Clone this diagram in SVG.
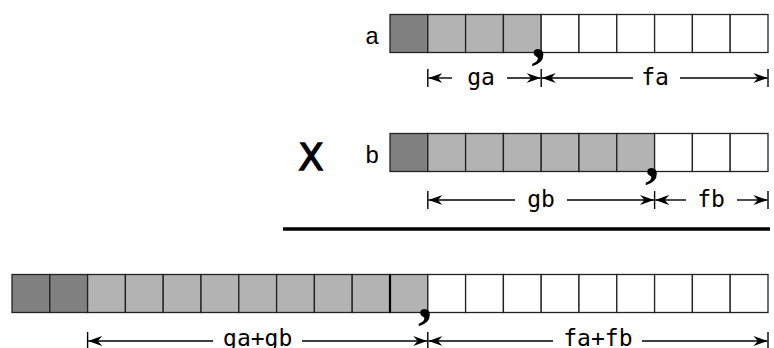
<svg xmlns="http://www.w3.org/2000/svg" width="774" height="348" viewBox="0 0 774 348">
<style>
.c{stroke:#222;stroke-width:1.3}
.d{fill:#808080}
.g{fill:#b3b3b3}
.w{fill:#fff}
.lbl{font-family:"Liberation Mono",monospace;font-size:24px;fill:#000}
.dim{font-family:"DejaVu Sans Mono",monospace;font-size:23px;fill:#000;text-anchor:middle}
.cm{font-family:"Liberation Serif",serif;font-weight:bold;font-size:56px;fill:#000}
.ln{stroke:#000;stroke-width:1.4;fill:none}
.ar{stroke:#000;stroke-width:1.4;fill:none;marker-end:url(#ah)}
</style>
<defs>
<marker id="ah" viewBox="0 0 14 11" refX="14" refY="5.5" markerWidth="14" markerHeight="11" markerUnits="userSpaceOnUse" orient="auto">
<path d="M0,0.5 L14,5.5 L0,10.5 L4.5,5.5 z" fill="#000"/>
</marker>
</defs>
<rect width="774" height="348" fill="#fff"/>

<g id="row-a">
<text class="lbl" x="365" y="44">a</text>
<rect class="c d" x="390" y="14.5" width="37.8" height="38"/>
<rect class="c g" x="427.8" y="14.5" width="37.8" height="38"/>
<rect class="c g" x="465.6" y="14.5" width="37.8" height="38"/>
<rect class="c g" x="503.4" y="14.5" width="37.8" height="38"/>
<rect class="c w" x="541.2" y="14.5" width="37.8" height="38"/>
<rect class="c w" x="579" y="14.5" width="37.8" height="38"/>
<rect class="c w" x="616.8" y="14.5" width="37.8" height="38"/>
<rect class="c w" x="654.6" y="14.5" width="37.8" height="38"/>
<rect class="c w" x="692.4" y="14.5" width="37.8" height="38"/>
<rect class="c w" x="730.2" y="14.5" width="37.8" height="38"/>
<text class="cm" x="531.5" y="56.5">,</text>
</g>

<g id="times">
<text x="311" y="170" font-family="DejaVu Sans,sans-serif" font-size="37" text-anchor="middle" stroke="#000" stroke-width="1.3">X</text>
</g>

<g id="row-b">
<text class="lbl" x="365" y="163">b</text>
<rect class="c d" x="390" y="133.5" width="37.8" height="38"/>
<rect class="c g" x="427.8" y="133.5" width="37.8" height="38"/>
<rect class="c g" x="465.6" y="133.5" width="37.8" height="38"/>
<rect class="c g" x="503.4" y="133.5" width="37.8" height="38"/>
<rect class="c g" x="541.2" y="133.5" width="37.8" height="38"/>
<rect class="c g" x="579" y="133.5" width="37.8" height="38"/>
<rect class="c g" x="616.8" y="133.5" width="37.8" height="38"/>
<rect class="c w" x="654.6" y="133.5" width="37.8" height="38"/>
<rect class="c w" x="692.4" y="133.5" width="37.8" height="38"/>
<rect class="c w" x="730.2" y="133.5" width="37.8" height="38"/>
<text class="cm" x="644.9" y="175.5">,</text>
</g>

<g id="rule">
<line x1="283" y1="229" x2="770" y2="229" stroke="#000" stroke-width="3.5"/>
</g>

<g id="row-sum">
<rect class="c d" x="12" y="274.5" width="37.8" height="38"/>
<rect class="c d" x="49.8" y="274.5" width="37.8" height="38"/>
<rect class="c g" x="87.6" y="274.5" width="37.8" height="38"/>
<rect class="c g" x="125.4" y="274.5" width="37.8" height="38"/>
<rect class="c g" x="163.2" y="274.5" width="37.8" height="38"/>
<rect class="c g" x="201" y="274.5" width="37.8" height="38"/>
<rect class="c g" x="238.8" y="274.5" width="37.8" height="38"/>
<rect class="c g" x="276.6" y="274.5" width="37.8" height="38"/>
<rect class="c g" x="314.4" y="274.5" width="37.8" height="38"/>
<rect class="c g" x="352.2" y="274.5" width="37.8" height="38"/>
<rect class="c g" x="390" y="274.5" width="37.8" height="38"/>
<rect class="c w" x="427.8" y="274.5" width="37.8" height="38"/>
<rect class="c w" x="465.6" y="274.5" width="37.8" height="38"/>
<rect class="c w" x="503.4" y="274.5" width="37.8" height="38"/>
<rect class="c w" x="541.2" y="274.5" width="37.8" height="38"/>
<rect class="c w" x="579" y="274.5" width="37.8" height="38"/>
<rect class="c w" x="616.8" y="274.5" width="37.8" height="38"/>
<rect class="c w" x="654.6" y="274.5" width="37.8" height="38"/>
<rect class="c w" x="692.4" y="274.5" width="37.8" height="38"/>
<rect class="c w" x="730.2" y="274.5" width="37.8" height="38"/>
<line x1="390" y1="274.5" x2="390" y2="312.5" stroke="#000" stroke-width="2.2"/>
<text class="cm" x="418.1" y="316.5">,</text>
</g>

<g id="connectors">
<!-- row a -->
<line class="ln" x1="427.8" y1="69" x2="427.8" y2="87"/>
<line class="ln" x1="541.2" y1="69" x2="541.2" y2="87"/>
<line class="ln" x1="768" y1="69" x2="768" y2="87"/>
<line class="ar" x1="452" y1="78" x2="428.4" y2="78"/>
<line class="ar" x1="507" y1="78" x2="540.6" y2="78"/>
<line class="ar" x1="633" y1="78" x2="541.8" y2="78"/>
<line class="ar" x1="680" y1="78" x2="767.4" y2="78"/>
<text class="dim" x="481" y="85">ga</text>
<text class="dim" x="655" y="85">fa</text>
<!-- row b -->
<line class="ln" x1="427.8" y1="191" x2="427.8" y2="209"/>
<line class="ln" x1="654.6" y1="191" x2="654.6" y2="209"/>
<line class="ln" x1="768" y1="191" x2="768" y2="209"/>
<line class="ar" x1="515" y1="200" x2="428.4" y2="200"/>
<line class="ar" x1="567" y1="200" x2="654" y2="200"/>
<line class="ar" x1="686" y1="200" x2="655.2" y2="200"/>
<line class="ar" x1="737" y1="200" x2="767.4" y2="200"/>
<text class="dim" x="541" y="207">gb</text>
<text class="dim" x="711" y="207">fb</text>
<!-- sum row -->
<line class="ln" x1="87.6" y1="332" x2="87.6" y2="350"/>
<line class="ln" x1="427.8" y1="332" x2="427.8" y2="350"/>
<line class="ln" x1="768" y1="332" x2="768" y2="350"/>
<line class="ar" x1="213" y1="341" x2="88.2" y2="341"/>
<line class="ar" x1="302" y1="341" x2="427.2" y2="341"/>
<line class="ar" x1="553" y1="341" x2="428.4" y2="341"/>
<line class="ar" x1="642" y1="341" x2="767.4" y2="341"/>
<text class="dim" x="257.7" y="346">ga+gb</text>
<text class="dim" x="597.9" y="346">fa+fb</text>
</g>
</svg>
